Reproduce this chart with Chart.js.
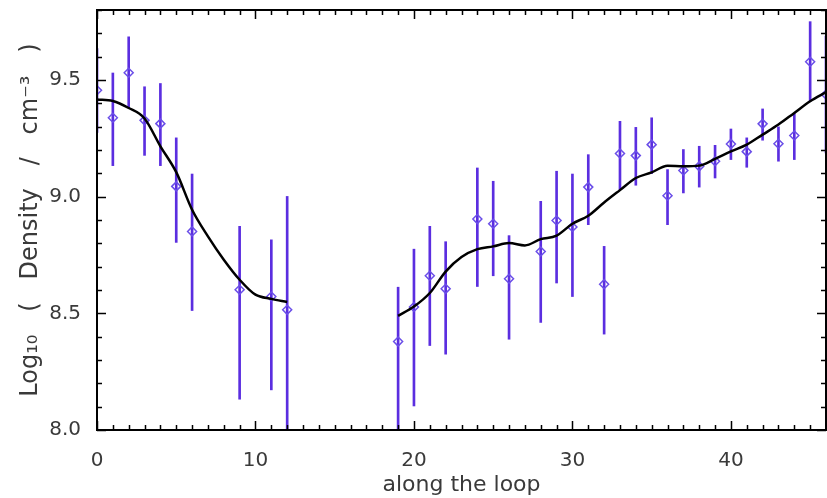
<!DOCTYPE html>
<html>
<head>
<meta charset="utf-8">
<script src="https://cdn.jsdelivr.net/npm/chart.js@4.4.1/dist/chart.umd.min.js"></script>
<style>
  html, body { margin: 0; padding: 0; background: #fff; }
  #wrap { width: 827px; height: 498px; }
</style>
</head>
<body>
<div id="wrap"><canvas id="density-chart"></canvas></div>
<script>
// measured positions along the loop
const pointX = [0, 1, 2, 3, 4, 5, 6, 9, 11, 12, 19, 20, 21, 22, 24, 25, 26, 28, 29, 30,
    31, 32, 33, 34, 35, 36, 37, 38, 39, 40, 41, 42, 43, 44, 45, 46];
const density = [9.456, 9.338, 9.531, 9.327, 9.313, 9.044, 8.851, 8.601, 8.572, 8.515,
    8.379, 8.527, 8.661, 8.605, 8.904, 8.884, 8.648, 8.765, 8.898, 8.870,
    9.041, 8.625, 9.185, 9.176, 9.223, 9.004, 9.112, 9.130, 9.152, 9.226,
    9.193, 9.312, 9.227, 9.262, 9.578, 9.438];
const errLow = [9.275, 9.133, 9.381, 9.177, 9.133, 8.804, 8.512, 8.132, 8.172, 7.95,
    7.9, 8.103, 8.362, 8.325, 8.615, 8.661, 8.389, 8.461, 8.630, 8.572,
    8.880, 8.411, 9.030, 9.049, 9.099, 8.880, 9.016, 9.041, 9.080, 9.159,
    9.126, 9.242, 9.152, 9.159, 9.409, 9.188];
const errHigh = [9.635, 9.530, 9.685, 9.471, 9.485, 9.252, 9.097, 8.873, 8.815, 9.001,
    8.612, 8.775, 8.873, 8.807, 9.123, 9.066, 8.833, 8.980, 9.109, 9.097,
    9.180, 8.787, 9.323, 9.297, 9.338, 9.116, 9.202, 9.216, 9.220, 9.290,
    9.252, 9.376, 9.299, 9.356, 9.750, 9.688];

// smooth fit, two pieces (gap between 12 and 19)
const fitX = [0, 1, 2, 3, 4, 5, 6, 7, 8, 9, 10, 11, 12, 13,
    19, 20, 21, 22, 23, 24, 25, 26, 27, 28, 29, 30, 31, 32,
    33, 34, 35, 36, 37, 38, 39, 40, 41, 42, 43, 44, 45, 46];
const fitY = [9.416, 9.41, 9.38, 9.335, 9.216, 9.105, 8.944, 8.83, 8.73, 8.644, 8.58, 8.562, 8.549, null,
    8.489, 8.529, 8.587, 8.679, 8.741, 8.775, 8.787, 8.801, 8.791, 8.818, 8.833, 8.884, 8.918, 8.975,
    9.028, 9.080, 9.104, 9.133, 9.130, 9.133, 9.162, 9.194, 9.223, 9.266, 9.309, 9.359, 9.409, 9.448];

const purple = "#5b2ee0";
const textColor = "#3a3a3a";

// frame + inward tick marks on all four sides
const framePlugin = {
    id: "frame",
    afterDatasetsDraw(chart) {
        const { ctx, chartArea: a, scales } = chart;
        ctx.save();
        ctx.strokeStyle = "#000";
        ctx.lineWidth = 1.5;
        ctx.beginPath();
        for (let v = 0; v <= 46; v++) {
            const px = Math.round(scales.x.getPixelForValue(v)) + 0.5;
            const len = v % 10 === 0 ? 9 : 5;
            ctx.moveTo(px, a.bottom); ctx.lineTo(px, a.bottom - len);
            ctx.moveTo(px, a.top); ctx.lineTo(px, a.top + len);
        }
        for (let i = 0; i <= 18; i++) {
            const v = 8 + i / 10;
            const py = Math.round(scales.y.getPixelForValue(v)) + 0.5;
            const len = i % 5 === 0 ? 9 : 5;
            ctx.moveTo(a.left, py); ctx.lineTo(a.left + len, py);
            ctx.moveTo(a.right, py); ctx.lineTo(a.right - len, py);
        }
        ctx.stroke();
        ctx.lineWidth = 2;
        ctx.strokeRect(a.left, a.top, a.right - a.left, a.bottom - a.top);
        ctx.restore();
    },
};

const ctx = document.getElementById("density-chart");

let densityChart = new Chart(ctx, {
    type: "scatter",
    data: {
        datasets: [
            {
                type: "line",
                label: "fit",
                data: fitX.map((x, i) => ({ x: x, y: fitY[i] })),
                borderColor: "#000",
                borderWidth: 2.5,
                pointRadius: 0,
                cubicInterpolationMode: "monotone",
                spanGaps: false,
                order: 0,
            },
            {
                type: "scatter",
                label: "density",
                data: pointX.map((x, i) => ({ x: x, y: density[i] })),
                pointStyle: "rectRot",
                pointRadius: 4.5,
                borderWidth: 1.5,
                borderColor: "#6a4ee8",
                backgroundColor: "rgba(0,0,0,0)",
                order: 1,
            },
            {
                type: "bar",
                label: "error",
                data: pointX.map((x, i) => ({ x: x, y: [errLow[i], errHigh[i]] })),
                backgroundColor: purple,
                barThickness: 2,
                borderWidth: 0,
                order: 2,
            },
        ],
    },
    options: {
        responsive: true,
        maintainAspectRatio: false,
        animation: false,
        layout: { autoPadding: false, padding: { top: 10, right: 1, left: 0, bottom: 0 } },
        plugins: {
            legend: { display: false },
            tooltip: { enabled: false },
        },
        scales: {
            x: {
                type: "linear",
                min: 0,
                max: 46,
                offset: false,
                grid: { display: false, drawTicks: false },
                border: { display: false },
                ticks: {
                    stepSize: 10,
                    includeBounds: false,
                    maxRotation: 0,
                    padding: 19,
                    color: textColor,
                    font: { family: "DejaVu Sans", size: 20 },
                },
                title: {
                    display: true,
                    text: "along the loop",
                    color: textColor,
                    font: { family: "DejaVu Sans", size: 22 },
                    padding: { top: 0, bottom: 0 },
                },
                afterFit(scale) {
                    scale.height = 68;
                    scale.paddingLeft = 0;
                    scale.paddingRight = 0;
                },
            },
            y: {
                type: "linear",
                min: 8,
                max: 9.8,
                grid: { display: false, drawTicks: false },
                border: { display: false },
                ticks: {
                    stepSize: 0.5,
                    includeBounds: false,
                    padding: 16,
                    color: textColor,
                    font: { family: "DejaVu Sans", size: 20 },
                    callback: (v) => v.toFixed(1),
                },
                title: {
                    display: true,
                    text: "Log₁₀   (   Density   /   cm⁻³   )",
                    color: textColor,
                    font: { family: "DejaVu Sans", size: 24 },
                    padding: { top: 16, bottom: 0 },
                },
                afterFit(scale) {
                    scale.width = 97;
                    scale.paddingTop = 0;
                    scale.paddingBottom = 0;
                },
            },
        },
    },
    plugins: [framePlugin],
});
</script>
</body>
</html>
